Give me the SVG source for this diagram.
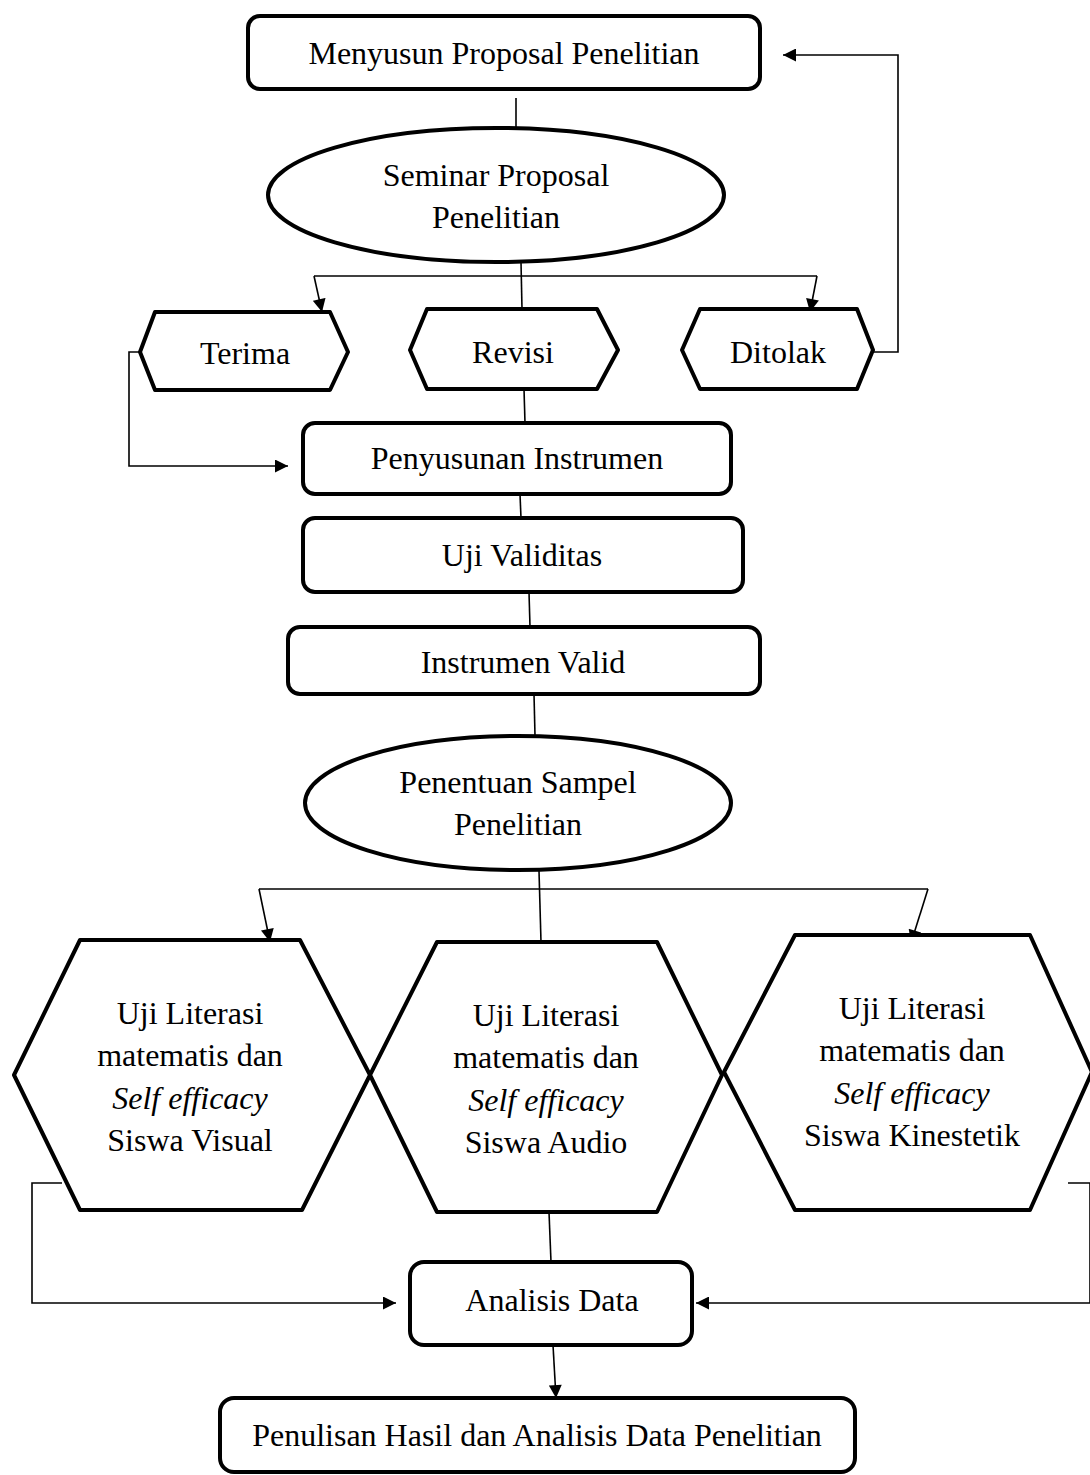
<svg xmlns="http://www.w3.org/2000/svg" width="1090" height="1475" viewBox="0 0 1090 1475">
<defs>
<marker id="ah" viewBox="0 0 10 10" refX="10" refY="5" markerWidth="14" markerHeight="13" markerUnits="userSpaceOnUse" orient="auto"><path d="M0,0 L10,5 L0,10 z" fill="#000"/></marker>
</defs>
<style>
.n{fill:#fff;stroke:#000;stroke-width:4;stroke-linejoin:round}
.t{font-family:"Liberation Serif","Times New Roman",serif;font-size:32px;fill:#000;text-anchor:middle}
.i{font-style:italic}
.c{fill:none;stroke:#000;stroke-width:1.6}
</style>
<rect width="1090" height="1475" fill="#fff"/>
<g id="connectors">
<line class="c" x1="516" y1="98" x2="516" y2="128"/>
<line class="c" x1="521" y1="262" x2="522" y2="309"/>
<polyline class="c" points="314,276 817,276"/>
<line class="c" x1="314" y1="276" x2="322" y2="312" marker-end="url(#ah)"/>
<line class="c" x1="817" y1="276" x2="810" y2="312" marker-end="url(#ah)"/>
<polyline class="c" points="873,352 898,352 898,55 783,55" marker-end="url(#ah)"/>
<polyline class="c" points="140,352 129,352 129,466 288,466" marker-end="url(#ah)"/>
<line class="c" x1="524" y1="389" x2="525" y2="423"/>
<line class="c" x1="520" y1="494" x2="521" y2="518"/>
<line class="c" x1="529" y1="592" x2="530" y2="627"/>
<line class="c" x1="534" y1="694" x2="535" y2="736"/>
<line class="c" x1="539" y1="871" x2="541" y2="942"/>
<polyline class="c" points="259,889 928,889"/>
<line class="c" x1="259" y1="889" x2="270" y2="942" marker-end="url(#ah)"/>
<line class="c" x1="928" y1="889" x2="911" y2="943" marker-end="url(#ah)"/>
<polyline class="c" points="62,1183 32,1183 32,1303 396,1303" marker-end="url(#ah)"/>
<polyline class="c" points="1068,1183 1090,1183 1090,1303 696,1303" marker-end="url(#ah)"/>
<line class="c" x1="549" y1="1212" x2="551" y2="1262"/>
<line class="c" x1="553" y1="1345" x2="556" y2="1398" marker-end="url(#ah)"/>
</g>
<g id="n1"><rect class="n" x="248" y="16" width="512" height="73" rx="12"/><text class="t" x="504" y="64">Menyusun Proposal Penelitian</text></g>
<g id="n2"><ellipse class="n" cx="496" cy="195" rx="228" ry="67"/><text class="t" x="496" y="186">Seminar Proposal</text><text class="t" x="496" y="228">Penelitian</text></g>
<g id="n3"><polygon class="n" points="140,352 155,312 330,312 348,352 330,390 155,390"/><text class="t" x="245" y="364">Terima</text></g>
<g id="n4"><polygon class="n" points="410,350 427,309 597,309 618,350 597,389 427,389"/><text class="t" x="513" y="363">Revisi</text></g>
<g id="n5"><polygon class="n" points="682,350 700,309 857,309 873,350 857,389 700,389"/><text class="t" x="778" y="363">Ditolak</text></g>
<g id="n6"><rect class="n" x="303" y="423" width="428" height="71" rx="12"/><text class="t" x="517" y="469">Penyusunan Instrumen</text></g>
<g id="n7"><rect class="n" x="303" y="518" width="440" height="74" rx="12"/><text class="t" x="522" y="566">Uji Validitas</text></g>
<g id="n8"><rect class="n" x="288" y="627" width="472" height="67" rx="12"/><text class="t" x="523" y="673">Instrumen Valid</text></g>
<g id="n9"><ellipse class="n" cx="518" cy="803" rx="213" ry="67"/><text class="t" x="518" y="793">Penentuan Sampel</text><text class="t" x="518" y="835">Penelitian</text></g>
<g id="n10"><polygon class="n" points="14,1075 80,940 300,940 370,1075 302,1210 80,1210"/><text class="t" x="190" y="1024">Uji Literasi</text><text class="t" x="190" y="1066">matematis dan</text><text class="t i" x="190" y="1109">Self efficacy</text><text class="t" x="190" y="1151">Siswa Visual</text></g>
<g id="n11"><polygon class="n" points="370,1075 437,942 657,942 722,1075 657,1212 437,1212"/><text class="t" x="546" y="1026">Uji Literasi</text><text class="t" x="546" y="1068">matematis dan</text><text class="t i" x="546" y="1111">Self efficacy</text><text class="t" x="546" y="1153">Siswa Audio</text></g>
<g id="n12"><polygon class="n" points="724,1072 795,935 1030,935 1092,1072 1030,1210 795,1210"/><text class="t" x="912" y="1019">Uji Literasi</text><text class="t" x="912" y="1061">matematis dan</text><text class="t i" x="912" y="1104">Self efficacy</text><text class="t" x="912" y="1146">Siswa Kinestetik</text></g>
<g id="n13"><rect class="n" x="410" y="1262" width="282" height="83" rx="14"/><text class="t" x="552" y="1311">Analisis Data</text></g>
<g id="n14"><rect class="n" x="220" y="1398" width="635" height="74" rx="14"/><text class="t" x="537" y="1446">Penulisan Hasil dan Analisis Data Penelitian</text></g>
</svg>
